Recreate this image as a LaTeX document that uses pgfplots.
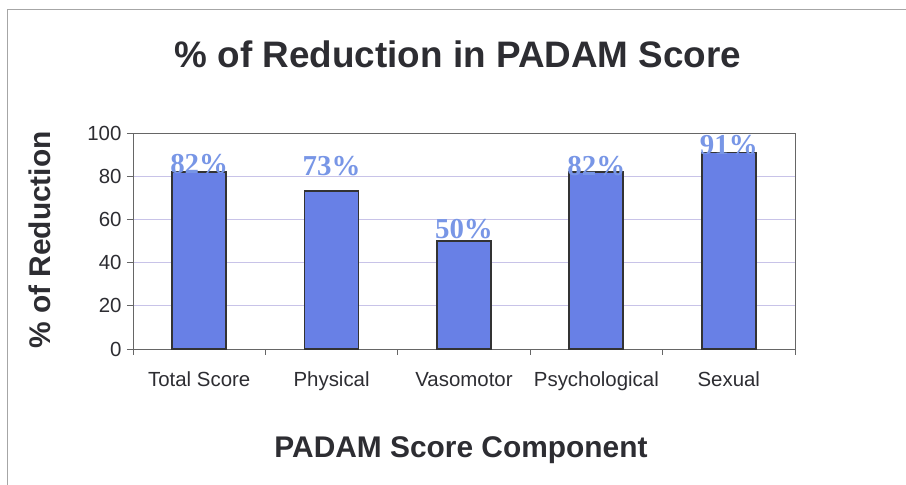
\documentclass[border=0pt]{standalone}
\usepackage{fontspec}
\setmainfont{Liberation Sans}
\newfontfamily\serifbold{Liberation Serif}
\usepackage{pgfplots}
\usepackage{pgfplotstable}
\pgfplotsset{compat=1.18}
\definecolor{barblue}{RGB}{104,128,230}
\definecolor{lblblue}{RGB}{120,150,230}
\definecolor{gridc}{RGB}{200,195,232}
\definecolor{txt}{RGB}{45,45,50}
\pgfplotstableread{
x y ly
0 82 81.5
1 73 81
2 50 51.5
3 82 81
4 91 90.5
}\datatab
\begin{document}
\begin{tikzpicture}
\begin{axis}[
  scale only axis, width=662bp, height=216bp,
  xmin=-0.5, xmax=4.5, ymin=0, ymax=100,
  xtick={0,1,2,3,4},
  xticklabels={Total Score, Physical, Vasomotor, Psychological, Sexual},
  minor xtick={-0.5,0.5,1.5,2.5,3.5,4.5},
  ytick={0,20,40,60,80,100},
  xtick pos=bottom, ytick pos=left,
  /pgf/number format/assume math mode=true,
  tick align=outside,
  major x tick style={draw=none},
  minor tick length=6bp, major tick length=6bp,
  tick style={gray!80!black, line width=0.8bp},
  ymajorgrids, grid style={gridc, line width=0.8bp},
  axis line style={gray!80!black, line width=0.9bp},
  ticklabel style={font=\fontsize{20.5}{22}\selectfont, text=txt},
  xticklabel style={text height=1.5ex, text depth=0.3ex, yshift=-20bp},
  yticklabel style={xshift=-2bp},
  clip=false,
]
\addplot[ybar, bar width=54bp, fill=barblue, draw=black!80, line width=1.8bp] table[x=x, y=y] {\datatab};
\addplot[draw=none, mark=none, nodes near coords, point meta=explicit,
  nodes near coords={\pgfmathprintnumber{\pgfplotspointmeta}\%},
  every node near coord/.append style={anchor=base, yshift=-1bp, inner sep=0pt, text=lblblue,
    font=\fontsize{29}{30}\selectfont\serifbold\bfseries}]
  table[x=x, y=ly, meta=y] {\datatab};
\coordinate (bl) at (rel axis cs:-0.2009,-0.6296);
\coordinate (tr) at (rel axis cs:1.1677,1.6157);
\draw[gray!70, line width=1bp] (rel axis cs:-0.1903,-0.6296) -- (rel axis cs:-0.1903,1.5694) -- (rel axis cs:1.1677,1.5694);
\node[font=\fontsize{37}{40}\selectfont\bfseries, text=txt] at (rel axis cs:0.4909,1.3657) {\% of Reduction in PADAM Score};
\node[font=\fontsize{30}{32}\selectfont\bfseries, text=txt] at (rel axis cs:0.4955,-0.4676) {PADAM Score Component};
\node[font=\fontsize{30}{32}\selectfont\bfseries, text=txt, rotate=90] at (rel axis cs:-0.1405,0.5046) {\% of Reduction};
\end{axis}
\pgfresetboundingbox
\path[use as bounding box] (bl) rectangle (tr);
\end{tikzpicture}
\end{document}
